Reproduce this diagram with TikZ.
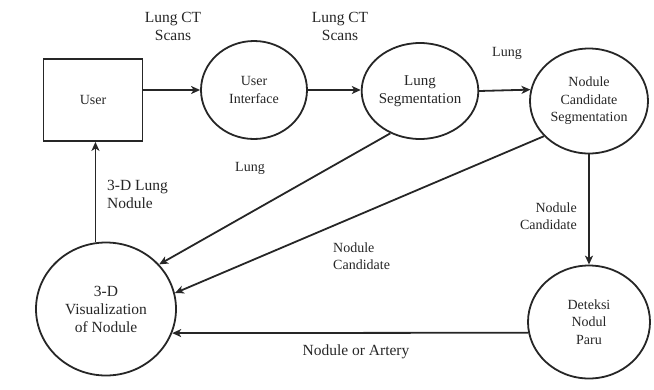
\documentclass[tikz,border=0pt]{standalone}
\usepackage{fontspec}
\setmainfont{Liberation Serif}
\usetikzlibrary{shapes.geometric,arrows.meta}
\begin{document}
\begin{tikzpicture}[x=1pt,y=-1pt,
  every node/.style={font=\fontsize{14}{17.5}\selectfont, text=black!85},
  big/.style={font=\fontsize{15.5}{18}\selectfont},
  proc/.style={draw=black!85, line width=1.8pt, ellipse, inner sep=0pt, align=center},
  ent/.style={draw=black!85, line width=1.8pt, rectangle, inner sep=0pt},
  flow/.style={draw=black!85, line width=1.8pt, -{Stealth[length=9pt,width=8pt,inset=2.5pt]}},
  lbl/.style={align=center, inner sep=0pt}]
\useasboundingbox (0,0) rectangle (654,389);
% entities and processes
\node[ent, minimum width=99pt, minimum height=82pt] (user) at (93,100) {User};
\node[proc, minimum width=106pt, minimum height=98pt] (ui) at (254,90) {User\\Interface};
\node[proc, minimum width=112pt, minimum height=96pt, font=\fontsize{15}{17.5}\selectfont] (ls) at (420,91) {Lung\\Segmentation};
\node[proc, minimum width=118pt, minimum height=105pt] (ncs) at (589,101) {Nodule\\Candidate\\Segmentation};
\node[proc, minimum width=140pt, minimum height=133pt, big] (viz) at (106,309) {3-D\\Visualization\\of Nodule};
\node[proc, minimum width=122pt, minimum height=113pt] (det) at (589,322) {Deteksi\\Nodul\\Paru};
% flows
\draw[flow] (ui.west -| user.east) -- (ui.west);
\draw[flow] (ui.east) -- (ui.east -| ls.west);
\draw[flow] (ls.east) -- (ncs.169);
\draw[flow] (ncs.south) -- (det.north);
\draw[flow] (det.190) -- (viz.-20);
\draw[flow] (viz.99) -- (viz.99 |- user.south);
\draw[flow] (ls.235) -- (viz.40);
\draw[flow] (ncs.218) -- (viz.13);
% labels
\node[lbl, big] (l1) at (173,26) {Lung CT\\Scans};
\node[lbl, big] (l2) at (340,26) {Lung CT\\Scans};
\node[lbl] (l3) at (507,53) {Lung};
\node[lbl] (l4) at (250,168) {Lung};
\node[lbl, big, anchor=west, align=left] (l5) at (107,194) {3-D Lung\\Nodule};
\node[lbl, anchor=east, align=right] (l6) at (577,216) {Nodule\\Candidate};
\node[lbl, anchor=west, align=left] (l7) at (333,256) {Nodule\\Candidate};
\node[lbl, big] (l8) at (356,352) {Nodule or Artery};
\end{tikzpicture}
\end{document}
